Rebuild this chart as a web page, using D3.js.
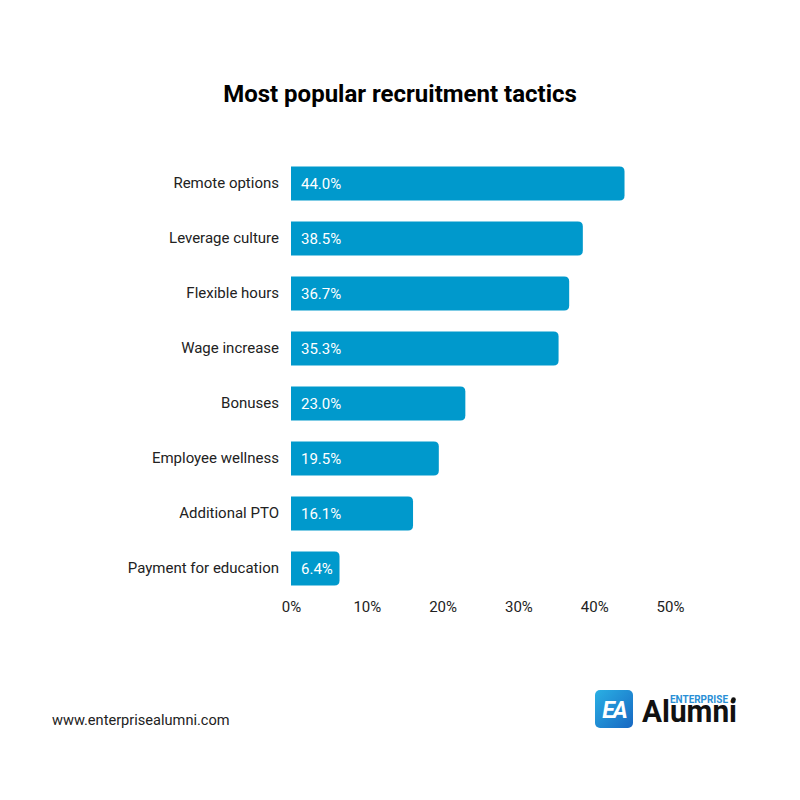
<!DOCTYPE html>
<html>
<head>
<meta charset="utf-8">
<script src="https://cdn.jsdelivr.net/npm/d3@7"></script>
<style>
  body { margin: 0; background: #fff; }
  svg { font-family: Roboto, "Noto Sans", sans-serif; }
</style>
</head>
<body>
<div id="chart"></div>
<script>
const categories = ["Remote options", "Leverage culture", "Flexible hours", "Wage increase",
  "Bonuses", "Employee wellness", "Additional PTO", "Payment for education"];
const values = [44.0, 38.5, 36.7, 35.3, 23.0, 19.5, 16.1, 6.4];
const tickValues = [0, 10, 20, 30, 40, 50];

const width = 800, height = 800;
const margin = { top: 156, right: 130, bottom: 204, left: 291 };
const barColor = "#0099cc";

const svg = d3.select("#chart").append("svg")
  .attr("width", width)
  .attr("height", height);

const x = d3.scaleLinear()
  .domain([0, 50])
  .range([margin.left, 670]);

const y = d3.scaleBand()
  .domain(categories)
  .range([margin.top, height - margin.bottom])
  .paddingInner(0.38)
  .paddingOuter(0.19);

svg.append("text")
  .attr("x", width / 2)
  .attr("y", 102)
  .attr("text-anchor", "middle")
  .attr("font-size", 24)
  .attr("font-weight", "bold")
  .attr("fill", "#000")
  .text("Most popular recruitment tactics");

// bar with rounded right corners only
function barPath(x0, x1, y0, h, r) {
  r = Math.min(r, (x1 - x0) / 2);
  return `M${x0},${y0}H${x1 - r}Q${x1},${y0} ${x1},${y0 + r}V${y0 + h - r}Q${x1},${y0 + h} ${x1 - r},${y0 + h}H${x0}Z`;
}

const data = categories.map((c, i) => ({ name: c, value: values[i] }));

svg.append("g")
  .selectAll("path")
  .data(data)
  .join("path")
    .attr("fill", barColor)
    .attr("d", d => barPath(x(0), x(d.value), y(d.name), y.bandwidth(), 5));

svg.append("g")
  .selectAll("text")
  .data(data)
  .join("text")
    .attr("x", x(0) + 10)
    .attr("y", d => y(d.name) + y.bandwidth() / 2)
    .attr("dy", "0.35em")
    .attr("fill", "#fff")
    .attr("font-size", 15)
    .text(d => d.value.toFixed(1) + "%");

const yAxis = g => g
  .attr("transform", `translate(${margin.left},0)`)
  .call(d3.axisLeft(y).tickSize(0).tickPadding(12))
  .call(g => g.select(".domain").remove())
  .call(g => g.selectAll("text").attr("font-size", 15).attr("fill", "#222").attr("font-family", "Roboto, sans-serif"));

const xAxis = g => g
  .attr("transform", `translate(0,${height - margin.bottom})`)
  .call(d3.axisBottom(x).tickValues(tickValues).tickSize(0).tickPadding(5).tickFormat(d => d + "%"))
  .call(g => g.select(".domain").remove())
  .call(g => g.selectAll("text").attr("font-size", 15).attr("fill", "#222").attr("font-family", "Roboto, sans-serif"));

svg.append("g").call(yAxis);
svg.append("g").call(xAxis);

svg.append("text")
  .attr("x", 52)
  .attr("y", 725)
  .attr("font-size", 14.6)
  .attr("fill", "#222")
  .text("www.enterprisealumni.com");

// logo
const defs = svg.append("defs");
const grad = defs.append("linearGradient")
  .attr("id", "logoGrad")
  .attr("x1", "0").attr("y1", "0").attr("x2", "1").attr("y2", "1");
grad.append("stop").attr("offset", "0%").attr("stop-color", "#2ab0e4");
grad.append("stop").attr("offset", "100%").attr("stop-color", "#1767c2");

const logo = svg.append("g").attr("transform", "translate(595,690)");
logo.append("rect")
  .attr("width", 38).attr("height", 38).attr("rx", 5)
  .attr("fill", "url(#logoGrad)");
logo.append("text")
  .attr("x", 19).attr("y", 28)
  .attr("text-anchor", "middle")
  .attr("font-size", 23)
  .attr("font-weight", "bold")
  .attr("font-style", "italic")
  .attr("fill", "#fff")
  .attr("letter-spacing", -2)
  .text("EA");
logo.append("text")
  .attr("x", 75).attr("y", 13)
  .attr("font-size", 10.5)
  .attr("font-weight", "bold")
  .attr("fill", "#2a8fd6")
  .attr("textLength", 58)
  .attr("lengthAdjust", "spacingAndGlyphs")
  .text("ENTERPRISE");
logo.append("circle")
  .attr("cx", 138.5).attr("cy", 9.5).attr("r", 2.3)
  .attr("fill", "#111");
logo.append("text")
  .attr("x", 47).attr("y", 32)
  .attr("font-size", 31)
  .attr("font-weight", "bold")
  .attr("fill", "#111")
  .attr("textLength", 95)
  .attr("lengthAdjust", "spacingAndGlyphs")
  .text("Alumni");
</script>
</body>
</html>
